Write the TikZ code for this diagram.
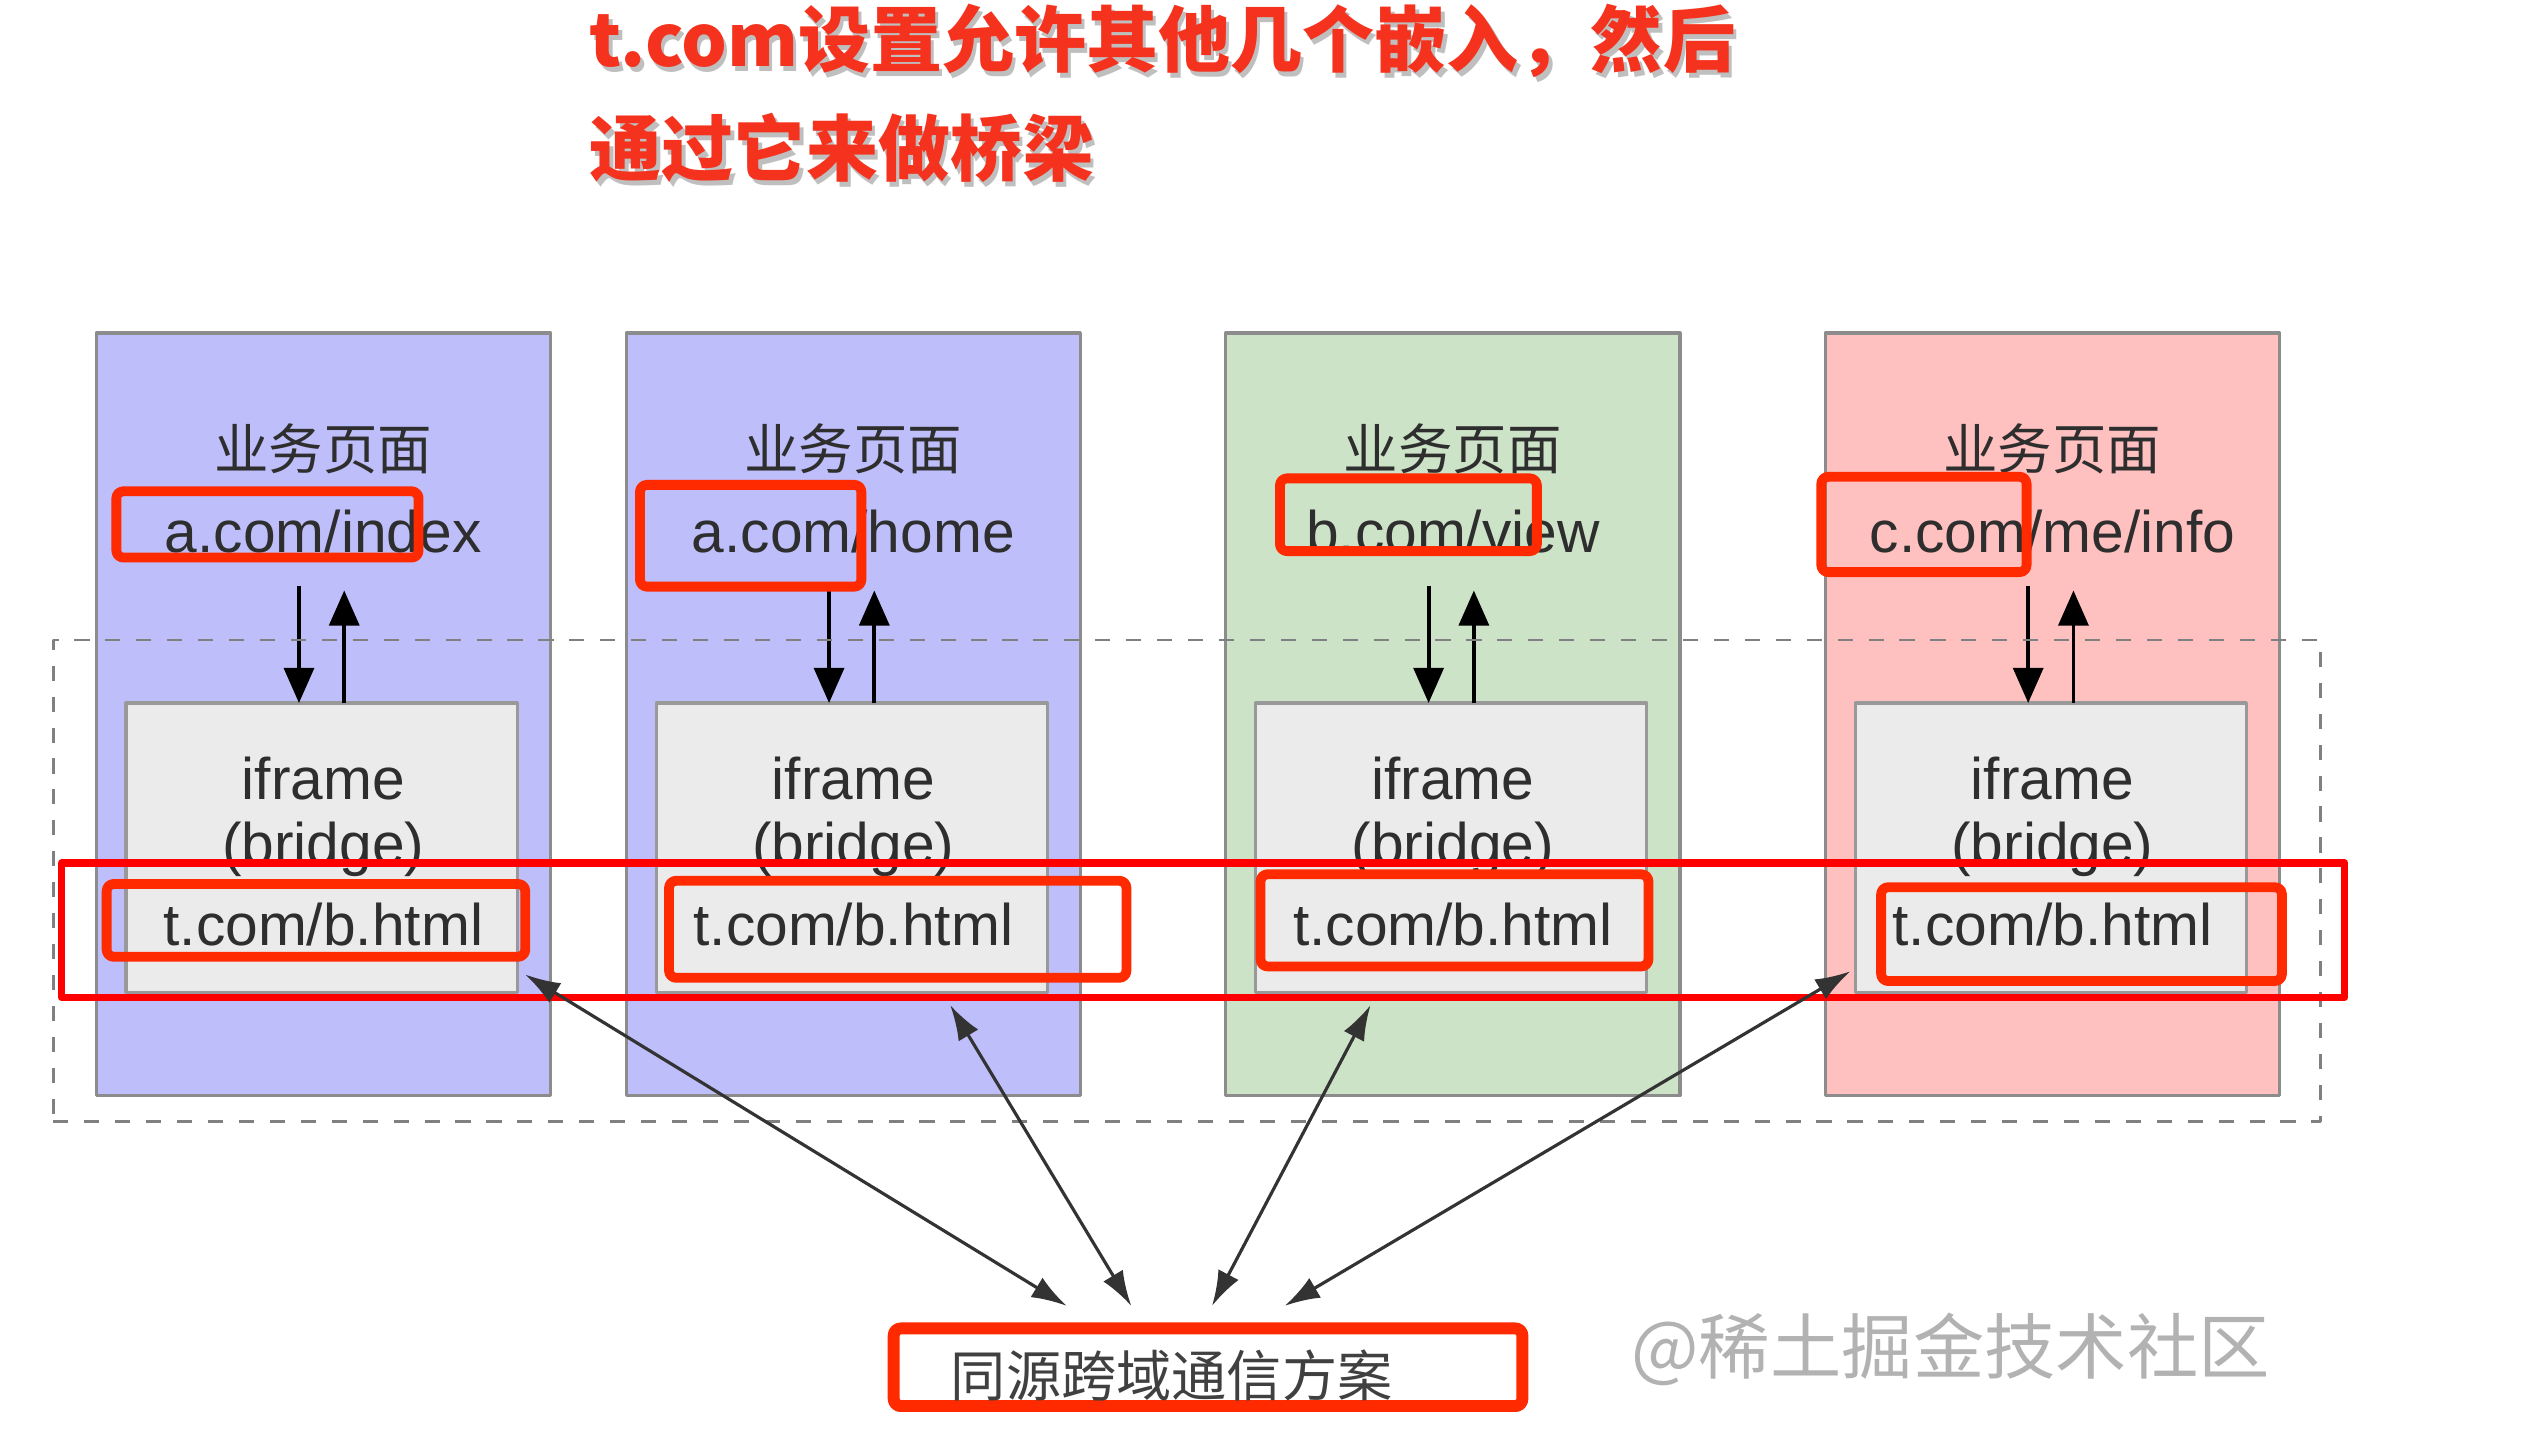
\documentclass[tikz,border=0pt]{standalone}
\usepackage{fontspec}
\setmainfont{Liberation Sans}
\newfontfamily\cjk{Noto Sans CJK SC}
\usetikzlibrary{arrows.meta,calc,fit}

\definecolor{PageBlue}{HTML}{BEBEFA}
\definecolor{PageGreen}{HTML}{CDE3C8}
\definecolor{PagePink}{HTML}{FFC0C0}
\definecolor{FrameGray}{HTML}{EBEBEB}
\definecolor{MarkRed}{HTML}{FF2A00}
\definecolor{BandRed}{HTML}{FF0000}
\definecolor{TitleRed}{HTML}{F5321E}
\definecolor{InkGray}{HTML}{2E2E2E}
\newcommand\pxlen{0.01616cm}

\begin{document}
\begin{tikzpicture}[x=0.01616cm, y=-0.01616cm, line width=1.1pt,
      >={Triangle[length=10pt,width=8.5pt]},
      every node/.append style={inner sep=0pt, outer sep=0pt, text=InkGray},
      every path/.append style={line join=round}]
	  \tikzstyle{page} = [draw=black!45, line width=0.9pt, minimum width=281*\pxlen, minimum height=472*\pxlen]
	  \tikzstyle{frame} = [draw=black!40, fill=FrameGray, line width=0.9pt, minimum width=242*\pxlen, minimum height=179*\pxlen]
	  \tikzstyle{txt} = [font=\fontsize{16.7}{20}\selectfont, anchor=base]
	  \tikzstyle{head} = [font=\cjk\fontsize{15.5}{18}\selectfont]
	  \tikzstyle{redmark} = [draw=MarkRed, line width=2.8pt, rounded corners=2pt]
	  \tikzstyle{redband} = [draw=BandRed, line width=2pt]
	  \tikzstyle{dashzone} = [draw=black!50, line width=0.8pt, dash pattern=on 4.3pt off 4.5pt]
	  \tikzstyle{link} = [<->, draw=black!80, line width=0.9pt, >={Latex[length=10pt,width=6.5pt]}]
	  \useasboundingbox (0,0) rectangle (1568,892);
	  % title
	  \node (shadow) [anchor=west, text=black!25, font=\cjk\bfseries\fontsize{20.5}{31}\selectfont, align=left] at (367,61) {t.com设置允许其他几个嵌入，然后\\通过它来做桥梁};
	  \node (title) [anchor=west, text=TitleRed, font=\cjk\bfseries\fontsize{20.5}{31}\selectfont, align=left] at (365,58) {t.com设置允许其他几个嵌入，然后\\通过它来做桥梁};
	  % four pages with their bridge iframes
	  \foreach \i/\xc/\col/\addr in {1/200/PageBlue/{a.com/index}, 2/528/PageBlue/{a.com/home},
	                                 3/899/PageGreen/{b.com/view}, 4/1270/PagePink/{c.com/me/info}} {
	    \node (pg\i) [page, fill=\col] at (\xc,442) {};
	    \node (hd\i) [head] at (\xc,278) {业务页面};
	    \node (url\i) [txt] at (\xc,342) {\addr};
	    \node (fr\i) [frame] at (\xc-1,524.5) {};
	    \node (if\i) [txt] at (\xc,495) {iframe};
	    \node (br\i) [txt] at (\xc,535) {(bridge)};
	    \node (tb\i) [txt] at (\xc,585) {t.com/b.html};
	    \draw[->] ($(url\i.south)+(-15,20)$) -- ($(fr\i.north)+(-14,0)$);
	    \draw[->] ($(fr\i.north)+(14,0)$) -- ($(url\i.south)+(13,23)$);
	  }
	  \node (zone) [dashzone, fit={(33,396) (1436,694)}] {};
	  % red marks
	  \draw[redmark] (72,304) rectangle (259,345);
	  \draw[redmark] (396,300) rectangle (533,363);
	  \draw[redmark] (792,296) rectangle (951,341);
	  \draw[redmark] (1127,295) rectangle (1254,354);
	  \draw[redmark] (66,547) rectangle (325,592);
	  \draw[redmark] (414,545) rectangle (697,605);
	  \draw[redmark] (780,541) rectangle (1020,598);
	  \draw[redmark] (1164,549) rectangle (1412,607);
	  \node (band) [redband, fit={(38,534) (1451,617)}] {};
	  % common channel
	  \node (plan) [redmark, line width=3.4pt, fit={(553,822) (942,870)}] {};
	  \node (plantxt) [head, font=\cjk\fontsize{15.7}{18}\selectfont, text=black!75] at (725,851) {同源跨域通信方案};
	  \draw[link] ($(fr1.south east)+(5,-11)$) -- ($(plan.north west)+(107,-14)$);
	  \draw[link] ($(fr2.south)+(61,8)$) -- ($(plan.north west)+(147,-14)$);
	  \draw[link] ($(fr3.south)+(-50,8)$) -- ($(plan.north west)+(197,-14)$);
	  \draw[link] ($(fr4.south west)+(-3,-13)$) -- ($(plan.north west)+(242,-14)$);
	  \node (mark) [font=\cjk\fontsize{20.3}{24}\selectfont, text=black!30] at (1207,835) {@稀土掘金技术社区};
\end{tikzpicture}
\end{document}
